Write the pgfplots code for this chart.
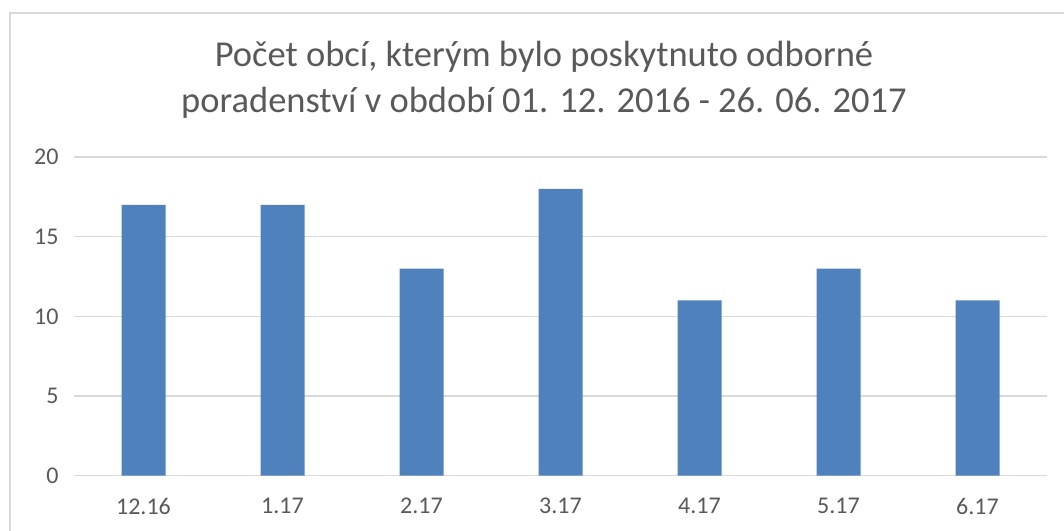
\documentclass[border=0pt]{standalone}
\usepackage{pgfplots}
\pgfplotsset{compat=1.18}
\usepackage{fontspec}
\setmainfont{Carlito}
\definecolor{barblue}{HTML}{4F81BD}
\definecolor{txtgray}{HTML}{595959}
\definecolor{gridgray}{HTML}{D9D9D9}
\begin{document}
\begin{tikzpicture}[x=1pt,y=1pt]
\useasboundingbox (0,0) rectangle (1064,530);
\draw[gridgray, line width=1.5pt] (10,-20) rectangle (1090,517);
\node[txtgray, align=center, font=\fontsize{36.5}{46}\selectfont] at (544,450) {Počet obcí, kterým bylo poskytnuto odborné\\poradenství v období 01. 12. 2016 - 26. 06. 2017};
\begin{axis}[
  at={(143.5pt,54.3pt)}, anchor=origin,
  scale only axis, width=973pt, height=318.7pt,
  xmin=-0.5, xmax=6.5, ymin=0, ymax=20,
  ytick={0,5,10,15,20},
  xtick=data,
  xticklabels={12.16,1.17,2.17,3.17,4.17,5.17,6.17},
  ymajorgrids, grid style={gridgray, line width=1.2pt},
  axis x line*=bottom, axis y line*=left,
  x axis line style={gridgray, line width=1.2pt, -},
  y axis line style={draw=none},
  major tick length=0pt,
  /pgf/number format/assume math mode=true,
  ticklabel style={txtgray, font=\fontsize{24}{28}\selectfont},
  yticklabel style={xshift=-12pt},
  xticklabel style={yshift=-19pt},
  ybar, bar width=44pt,
]
\addplot[fill=barblue, draw=none] coordinates {(0,17)(1,17)(2,13)(3,18)(4,11)(5,13)(6,11)};
\end{axis}
\end{tikzpicture}
\end{document}
